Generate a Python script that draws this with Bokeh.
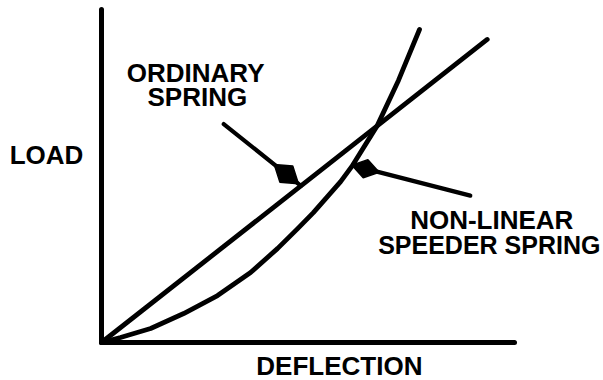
import math
from bokeh.plotting import figure
from bokeh.models import Range1d, FixedTicker, Label
from bokeh.embed import file_html
from bokeh.resources import INLINE

# ---- data (axes are unitless 0..100) ----
deflection_ordinary = [0.0, 93.4]
load_ordinary = [0.0, 91.0]

deflection_nonlinear = [0.0, 4.6, 11.9, 19.9, 28.1, 36.1, 42.6, 47.5, 51.3, 57.9, 60.8, 66.8, 71.9, 77.0]
load_nonlinear = [0.0, 1.5, 4.2, 8.7, 14.1, 21.0, 28.2, 34.2, 39.0, 48.3, 53.2, 65.2, 78.7, 94.0]

x_title = "DEFLECTION"
y_title = "LOAD"
ordinary_label = ["ORDINARY", "SPRING"]
nonlinear_label = ["NON-LINEAR", "SPEEDER SPRING"]

# ---- figure: the frame fills the canvas, axes sit at the data origin ----
W, H = 603, 380
XPX, YPX = 4.13, 3.33          # pixels per data unit
X0, Y0 = 101, 342              # pixel position of the data origin
xr = (-X0 / XPX, (W - X0) / XPX)
yr = (-(H - Y0) / YPX, Y0 / YPX)

p = figure(width=W, height=H, output_backend="svg", toolbar_location=None,
           x_range=Range1d(*xr), y_range=Range1d(*yr),
           min_border=0, min_border_left=0, min_border_right=0,
           min_border_top=0, min_border_bottom=0)
p.outline_line_color = None
p.grid.visible = False
p.background_fill_color = "white"
p.border_fill_color = "white"

for ax in (p.xaxis[0], p.yaxis[0]):
    ax.ticker = FixedTicker(ticks=[])
    ax.major_tick_line_color = None
    ax.minor_tick_line_color = None
    ax.major_tick_out = 0
    ax.major_tick_in = 0
    ax.minor_tick_out = 0
    ax.minor_tick_in = 0
    ax.major_label_text_font_size = "0px"
    ax.major_label_standoff = 0
    ax.axis_line_color = "black"
    ax.axis_line_width = 5
    ax.axis_line_cap = "round"
    ax.fixed_location = 0
    ax.bounds = (0, 100)

FONT = "Liberation Sans"
LW = 4.8

p.line(deflection_ordinary, load_ordinary, line_color="black", line_width=LW,
       line_cap="round", line_join="round")
p.line(deflection_nonlinear, load_nonlinear, line_color="black", line_width=LW,
       line_cap="round", line_join="round")

def pointer(tail, tip, t, size):
    p.line([tail[0], tip[0]], [tail[1], tip[1]], line_color="black", line_width=4.2,
           line_cap="round")
    dx = (tail[0] - tip[0]) * XPX
    dy = (tail[1] - tip[1]) * YPX
    theta = math.atan2(dy, dx)
    bx = tip[0] + t * (tail[0] - tip[0])
    by = tip[1] + t * (tail[1] - tip[1])
    p.scatter([bx], [by], marker="diamond", size=size, angle=theta - math.pi / 2,
              fill_color="black", line_color="black", line_width=1.5)

# ordinary-spring pointer: tip on the straight line
tip_x = 48.3
tip_o = (tip_x, load_ordinary[1] / deflection_ordinary[1] * tip_x)
pointer((29.6, 65.6), tip_o, 0.19, 31)

# non-linear pointer: tip on a point of the curve
tip_n = (deflection_nonlinear[10], load_nonlinear[10])
pointer((89.3, 44.1), tip_n, 0.11, 28)

def text(x, y, s, size="26px"):
    p.add_layout(Label(x=x, y=y, text=s, text_font=FONT, text_font_style="bold",
                       text_font_size=size, text_color="black",
                       text_align="center", text_baseline="middle"))

text(-13.3, 56.4, y_title)
text(57.6, -7.2, x_title)
text(22.8, 81.0, ordinary_label[0])
text(23.2, 73.6, ordinary_label[1])
text(94.5, 36.9, nonlinear_label[0])
text(93.9, 29.4, nonlinear_label[1], "25px")

open("out.html", "w").write(file_html(p, INLINE))
